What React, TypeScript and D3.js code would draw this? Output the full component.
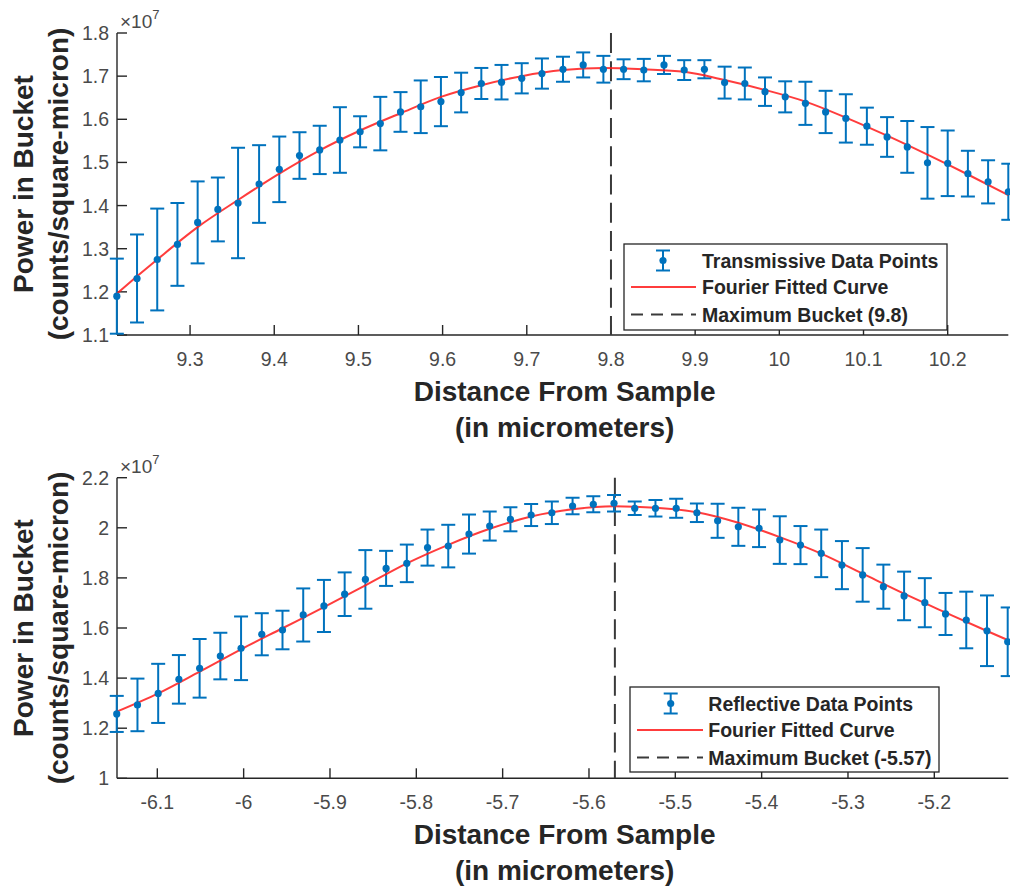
import React from 'react';
import * as d3 from 'd3';

// ---------- Top panel (transmissive) ----------
const topX = [9.213, 9.237, 9.261, 9.285, 9.309, 9.333, 9.357, 9.382, 9.406, 9.430, 9.454, 9.478, 9.502, 9.526, 9.550, 9.574, 9.598, 9.622, 9.646, 9.670, 9.694, 9.718, 9.743, 9.767, 9.791, 9.815, 9.839, 9.863, 9.887, 9.911, 9.935, 9.959, 9.983, 10.007, 10.031, 10.055, 10.079, 10.104, 10.128, 10.152, 10.176, 10.200, 10.224, 10.248, 10.272];
const topY = [1.190, 1.231, 1.275, 1.310, 1.361, 1.391, 1.406, 1.450, 1.484, 1.516, 1.529, 1.552, 1.571, 1.590, 1.617, 1.629, 1.641, 1.662, 1.683, 1.686, 1.695, 1.706, 1.716, 1.726, 1.716, 1.716, 1.714, 1.726, 1.714, 1.716, 1.685, 1.683, 1.664, 1.652, 1.637, 1.617, 1.602, 1.584, 1.559, 1.536, 1.499, 1.498, 1.474, 1.455, 1.432];
const topErr = [0.087, 0.102, 0.118, 0.096, 0.095, 0.074, 0.128, 0.090, 0.076, 0.054, 0.056, 0.076, 0.036, 0.062, 0.046, 0.061, 0.057, 0.046, 0.036, 0.040, 0.035, 0.035, 0.029, 0.029, 0.031, 0.023, 0.026, 0.021, 0.023, 0.021, 0.037, 0.037, 0.033, 0.036, 0.050, 0.049, 0.056, 0.043, 0.046, 0.060, 0.083, 0.076, 0.053, 0.050, 0.065];
const topFitX = [9.213, 9.237, 9.261, 9.309, 9.357, 9.406, 9.454, 9.502, 9.550, 9.598, 9.646, 9.694, 9.743, 9.791, 9.839, 9.887, 9.935, 9.983, 10.031, 10.079, 10.128, 10.176, 10.224, 10.272];
const topFitY = [1.196, 1.236, 1.275, 1.350, 1.413, 1.474, 1.528, 1.574, 1.614, 1.652, 1.679, 1.700, 1.714, 1.719, 1.716, 1.710, 1.691, 1.668, 1.641, 1.604, 1.562, 1.518, 1.472, 1.424];
const topXTicks = [9.3, 9.4, 9.5, 9.6, 9.7, 9.8, 9.9, 10, 10.1, 10.2];
const topYTicks = [1.1, 1.2, 1.3, 1.4, 1.5, 1.6, 1.7, 1.8];
const topMax = 9.8;
const topLegend = ['Transmissive Data Points', 'Fourier Fitted Curve', 'Maximum Bucket (9.8)'];

// ---------- Bottom panel (reflective) ----------
const botX = [-6.147, -6.123, -6.099, -6.075, -6.051, -6.027, -6.003, -5.979, -5.955, -5.931, -5.907, -5.883, -5.859, -5.835, -5.811, -5.787, -5.763, -5.739, -5.715, -5.691, -5.667, -5.643, -5.619, -5.595, -5.571, -5.547, -5.523, -5.499, -5.475, -5.451, -5.427, -5.403, -5.379, -5.355, -5.331, -5.307, -5.283, -5.259, -5.235, -5.211, -5.187, -5.163, -5.139, -5.115];
const botY = [1.257, 1.293, 1.339, 1.395, 1.439, 1.488, 1.519, 1.575, 1.592, 1.652, 1.688, 1.735, 1.794, 1.838, 1.858, 1.921, 1.927, 1.975, 2.007, 2.034, 2.051, 2.060, 2.087, 2.094, 2.098, 2.078, 2.078, 2.078, 2.060, 2.028, 2.004, 1.998, 1.951, 1.931, 1.898, 1.851, 1.812, 1.765, 1.728, 1.701, 1.656, 1.632, 1.589, 1.545];
const botErr = [0.072, 0.105, 0.118, 0.097, 0.117, 0.093, 0.127, 0.084, 0.077, 0.106, 0.104, 0.087, 0.117, 0.070, 0.075, 0.072, 0.085, 0.078, 0.058, 0.048, 0.044, 0.045, 0.033, 0.032, 0.033, 0.027, 0.033, 0.038, 0.037, 0.068, 0.076, 0.075, 0.095, 0.076, 0.095, 0.096, 0.107, 0.088, 0.097, 0.098, 0.084, 0.113, 0.141, 0.137];
const botFitX = [-6.147, -6.099, -6.051, -6.003, -5.955, -5.907, -5.859, -5.811, -5.763, -5.715, -5.667, -5.619, -5.571, -5.523, -5.475, -5.427, -5.379, -5.331, -5.283, -5.235, -5.187, -5.139, -5.115];
const botFitY = [1.266, 1.339, 1.426, 1.515, 1.599, 1.683, 1.770, 1.858, 1.932, 1.996, 2.045, 2.074, 2.086, 2.080, 2.062, 2.020, 1.963, 1.897, 1.817, 1.737, 1.662, 1.588, 1.552];
const botXTicks = [-6.1, -6, -5.9, -5.8, -5.7, -5.6, -5.5, -5.4, -5.3, -5.2];
const botYTicks = [1, 1.2, 1.4, 1.6, 1.8, 2, 2.2];
const botMax = -5.57;
const botLegend = ['Reflective Data Points', 'Fourier Fitted Curve', 'Maximum Bucket (-5.57)'];

const yTitle1 = 'Power in Bucket';
const yTitle2 = '(counts/square-micron)';
const xTitle1 = 'Distance From Sample';
const xTitle2 = '(in micrometers)';

const FONT = "'Liberation Sans', Arial, Helvetica, sans-serif";
const BLUE = '#0072BD';
const RED = '#FF1A1A';
const AXIS = '#262626';
const TICKC = '#4a4a4a';

type PanelProps = {
  xs: number[]; ys: number[]; errs: number[];
  fitX: number[]; fitY: number[];
  xTicks: number[]; yTicks: number[];
  xDomain: [number, number]; yDomain: [number, number];
  top: number; bottom: number;
  maxX: number; legend: string[];
  legBox: { x0: number; x1: number; y0: number; y1: number; sym: number; l0: number; l1: number; tx: number };
};

function fmt(v: number) {
  return String(+v.toFixed(2));
}

function Panel(p: PanelProps) {
  const left = 117, right = 1008.3;
  const x = d3.scaleLinear().domain(p.xDomain).range([left, right]);
  const y = d3.scaleLinear().domain(p.yDomain).range([p.bottom, p.top]);
  const fit = p.fitX.map((v, i) => [v, p.fitY[i]] as [number, number]);
  const line = d3.line<[number, number]>().x(d => x(d[0])).y(d => y(d[1])).curve(d3.curveMonotoneX);
  const cap = 7;
  const midY = (p.top + p.bottom) / 2;
  const midX = (left + right) / 2 + 2;
  const lb = p.legBox;
  const rows = [lb.y0 + 16.5, lb.y0 + 43, lb.y0 + 70.5];
  return (
    <g>
      {/* axes */}
      <line x1={left} x2={left} y1={p.top} y2={p.bottom} stroke={AXIS} strokeWidth={1.4} />
      <line x1={left} x2={right} y1={p.bottom} y2={p.bottom} stroke={AXIS} strokeWidth={1.4} />
      {p.yTicks.map(t => (
        <g key={'y' + t}>
          <line x1={left} x2={left + 10} y1={y(t)} y2={y(t)} stroke={AXIS} strokeWidth={1.4} />
          <text x={109} y={y(t) + 7} textAnchor="end" fontFamily={FONT} fontSize={19.5} fill={TICKC}>{fmt(t)}</text>
        </g>
      ))}
      {p.xTicks.map(t => (
        <g key={'x' + t}>
          <line x1={x(t)} x2={x(t)} y1={p.bottom} y2={p.bottom - 10} stroke={AXIS} strokeWidth={1.4} />
          <text x={x(t)} y={p.bottom + 31} textAnchor="middle" fontFamily={FONT} fontSize={19.5} fill={TICKC}>{fmt(t)}</text>
        </g>
      ))}
      {/* exponent */}
      <text x={120} y={p.top - 5} fontFamily={FONT} fontSize={19} fill={TICKC}>
        ×10<tspan dy={-9} fontSize={13}>7</tspan>
      </text>
      {/* titles */}
      <text transform={`translate(33,${midY}) rotate(-90)`} textAnchor="middle" fontFamily={FONT} fontWeight="bold" fontSize={28} fill={AXIS}>{yTitle1}</text>
      <text transform={`translate(68,${midY}) rotate(-90)`} textAnchor="middle" fontFamily={FONT} fontWeight="bold" fontSize={28} fill={AXIS}>{yTitle2}</text>
      <text x={midX} y={p.bottom + 66} textAnchor="middle" fontFamily={FONT} fontWeight="bold" fontSize={28} fill={AXIS}>{xTitle1}</text>
      <text x={midX} y={p.bottom + 102} textAnchor="middle" fontFamily={FONT} fontWeight="bold" fontSize={28} fill={AXIS}>{xTitle2}</text>
      {/* max line */}
      <line x1={x(p.maxX)} x2={x(p.maxX)} y1={p.top} y2={p.bottom} stroke="#3a3a3a" strokeWidth={2} strokeDasharray="20 8.3" />
      {/* error bars */}
      {p.xs.map((xv, i) => {
        const cx = x(xv);
        const y0 = y(p.ys[i] + p.errs[i]);
        const y1 = y(p.ys[i] - p.errs[i]);
        return (
          <g key={'e' + i} stroke={BLUE} strokeWidth={2}>
            <line x1={cx} x2={cx} y1={y0} y2={y1} />
            <line x1={cx - cap} x2={cx + cap} y1={y0} y2={y0} />
            <line x1={cx - cap} x2={cx + cap} y1={y1} y2={y1} />
          </g>
        );
      })}
      {/* fit */}
      <path d={line(fit) || ''} fill="none" stroke={RED} strokeWidth={2} strokeOpacity={0.85} />
      {p.xs.map((xv, i) => (
        <circle key={'m' + i} cx={x(xv)} cy={y(p.ys[i])} r={3.6} fill={BLUE} />
      ))}
      {/* legend */}
      <rect x={lb.x0} y={lb.y0} width={lb.x1 - lb.x0} height={lb.y1 - lb.y0} fill="#fff" stroke={AXIS} strokeWidth={1.3} />
      <g stroke={BLUE} strokeWidth={2}>
        <line x1={lb.sym} x2={lb.sym} y1={rows[0] - 10} y2={rows[0] + 10} />
        <line x1={lb.sym - cap} x2={lb.sym + cap} y1={rows[0] - 10} y2={rows[0] - 10} />
        <line x1={lb.sym - cap} x2={lb.sym + cap} y1={rows[0] + 10} y2={rows[0] + 10} />
      </g>
      <circle cx={lb.sym} cy={rows[0]} r={3.6} fill={BLUE} />
      <line x1={lb.l0} x2={lb.l1} y1={rows[1]} y2={rows[1]} stroke={RED} strokeWidth={2} strokeOpacity={0.85} />
      <line x1={lb.l0} x2={lb.l1} y1={rows[2]} y2={rows[2]} stroke="#3a3a3a" strokeWidth={2} strokeDasharray="12 8" />
      {p.legend.map((s, i) => (
        <text key={'l' + i} x={lb.tx} y={rows[i] + 7} fontFamily={FONT} fontWeight="bold" fontSize={19.5} fill={AXIS}>{s}</text>
      ))}
    </g>
  );
}

export default function App() {
  return (
    <svg width={1010} height={886} style={{ position: 'absolute', left: 0, top: 0, background: '#fff' }}>
      <rect x={0} y={0} width={1010} height={886} fill="#fff" />
      <Panel xs={topX} ys={topY} errs={topErr} fitX={topFitX} fitY={topFitY}
        xTicks={topXTicks} yTicks={topYTicks} xDomain={[9.2132, 10.272]} yDomain={[1.1, 1.8]}
        top={33} bottom={335} maxX={topMax} legend={topLegend}
        legBox={{ x0: 624, x1: 947, y0: 244, y1: 330, sym: 663, l0: 631, l1: 696, tx: 702 }} />
      <Panel xs={botX} ys={botY} errs={botErr} fitX={botFitX} fitY={botFitY}
        xTicks={botXTicks} yTicks={botYTicks} xDomain={[-6.1467, -5.1143]} yDomain={[1, 2.2]}
        top={477.7} bottom={778.3} maxX={botMax} legend={botLegend}
        legBox={{ x0: 630, x1: 939, y0: 687, y1: 772, sym: 670.7, l0: 637, l1: 703, tx: 708.3 }} />
    </svg>
  );
}
